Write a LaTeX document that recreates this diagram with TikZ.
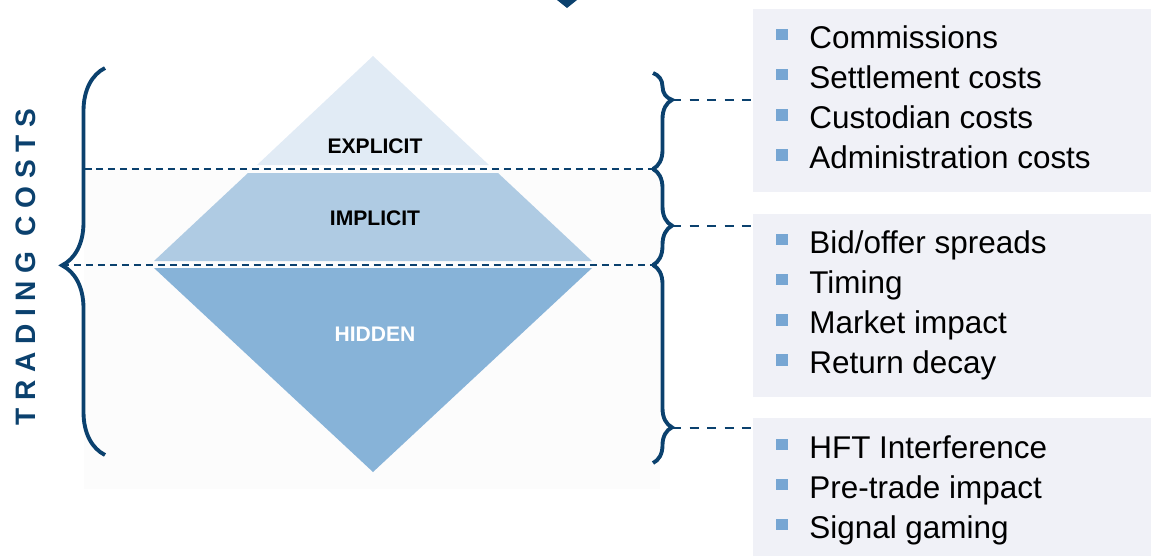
\documentclass[tikz,border=0pt]{standalone}
\usepackage{fontspec}
\setmainfont{Liberation Sans}
\newfontfamily\spacedfont[LetterSpace=27]{Liberation Sans}
\usetikzlibrary{decorations.pathreplacing}

\definecolor{navy}{HTML}{0B416E}
\definecolor{layerA}{HTML}{E1EBF5}
\definecolor{layerB}{HTML}{AFCBE3}
\definecolor{layerC}{HTML}{87B3D8}
\definecolor{boxgray}{HTML}{F0F1F7}
\definecolor{bulletblue}{HTML}{77A6D3}
\definecolor{paleback}{HTML}{FCFCFC}

\newcommand{\sqbullet}{\textcolor{bulletblue}{\rule[0.16cm]{0.24cm}{0.23cm}}\hspace{0.42cm}}

\begin{document}
\begin{tikzpicture}[x=0.02cm,y=-0.02cm,
    layer label/.style={font=\fontsize{12}{14}\selectfont\bfseries},
    item/.style={anchor=base west,inner sep=0pt,font=\fontsize{17.9}{20}\selectfont},
    listbox/.style={fill=boxgray,anchor=north west,inner sep=0pt,minimum width=7.96cm},
    rbrace/.style={draw=navy,line width=2.2pt,decorate,decoration={brace,amplitude=0.38cm,aspect=#1}},
    lbrace/.style={draw=navy,line width=2.2pt,decorate,decoration={brace,amplitude=0.86cm,aspect=0.49}},
    cut/.style={draw=navy,line width=1.1pt,dash pattern=on 0.15cm off 0.09cm},
    link/.style={draw=navy,line width=1.2pt,dash pattern=on 0.18cm off 0.17cm}]
  \useasboundingbox (0,0) rectangle (1151,555);

  % pale panel behind the lower part
  \fill[paleback] (84,169) rectangle (660,489);
  \fill[navy] (557,0) -- (577,0) -- (567,8) -- cycle;

  % the three layers
  \fill[layerA] (373,56) -- (489,165) -- (257,165) -- cycle;
  \fill[layerB] (248,173) -- (498,173) -- (592,261) -- (154,261) -- cycle;
  \fill[layerC] (154,268) -- (592,268) -- (373,472) -- cycle;
  \node[layer label]            (explicit) at (375,146) {EXPLICIT};
  \node[layer label]            (implicit) at (375,218) {IMPLICIT};
  \node[layer label,text=white] (hidden)   at (375,334) {HIDDEN};

  % cut lines
  \coordinate (cut1L) at (84,169);
  \coordinate (cut1R) at (658,169);
  \coordinate (cut2L) at (62,265);
  \coordinate (cut2R) at (658,265);
  \draw[cut] (cut1L) -- (cut1R);
  \draw[cut] (cut2L) -- (cut2R);

  % left brace and title
  \draw[lbrace] (105,455) -- (105,68);
  \node[rotate=90,text=navy,font=\spacedfont\fontsize{16}{18}\selectfont\bfseries] (title) at (26,267) {TRADING COSTS};

  % right braces
  \draw[rbrace=0.28] (653,73) -- (653,169);
  \draw[rbrace=0.59] (653,169) -- (653,265);
  \draw[rbrace=0.82] (653,265) -- (653,463);
  \coordinate (tip1) at (672,100);
  \coordinate (tip2) at (672,226);
  \coordinate (tip3) at (672,428);

  % lists
  \node[listbox,minimum height=3.66cm] (box1) at (753,9) {};
  \node[listbox,minimum height=3.66cm] (box2) at (753,214) {};
  \node[listbox,minimum height=2.76cm] (box3) at (753,418) {};
  \foreach \txt [count=\i] in {Commissions,Settlement costs,Custodian costs,Administration costs}
    \node[item] (ex\i) at (776,{48+40.3*(\i-1)}) {\sqbullet\txt};
  \foreach \txt [count=\i] in {Bid/offer spreads,Timing,Market impact,Return decay}
    \node[item] (im\i) at (776,{253+40.3*(\i-1)}) {\sqbullet\txt};
  \foreach \txt [count=\i] in {HFT Interference,Pre-trade impact,Signal gaming}
    \node[item] (hi\i) at (776,{458+40*(\i-1)}) {\sqbullet\txt};

  \draw[link] (tip1) -- (tip1 -| box1.west);
  \draw[link] (tip2) -- (tip2 -| box2.west);
  \draw[link] (tip3) -- (tip3 -| box3.west);
\end{tikzpicture}
\end{document}
